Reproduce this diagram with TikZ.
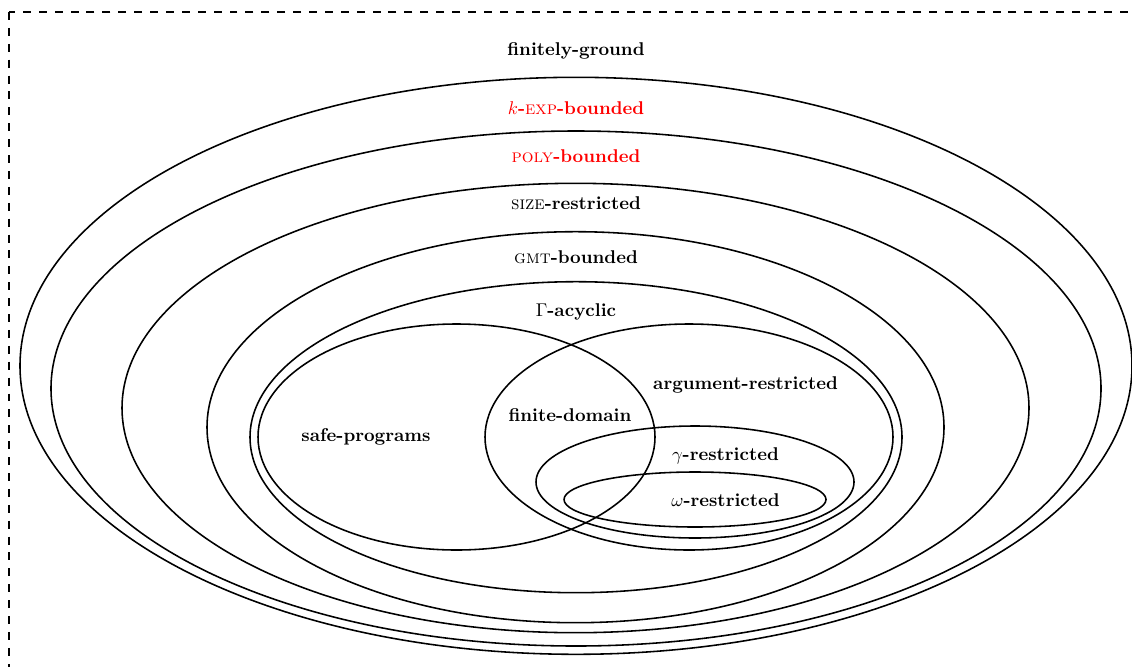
\documentclass[tikz,border=0pt]{standalone}
\begin{document}
\begin{tikzpicture}[x=0.541pt,y=-0.541pt,
  ell/.style={line width=0.85pt},
  lbl/.style={font=\bfseries, inner sep=0pt},
  redlbl/.style={lbl, text=red},
  frame/.style={dash pattern=on 4.3pt off 4.3pt, line width=0.8pt}]
\useasboundingbox (0,0) rectangle (1132,666);
\begin{scope}
  \clip (0,0) rectangle (1132,666);
  \draw[frame] (9,12) rectangle (1160,700);
\end{scope}
% nested classes
\draw[ell] (576,365.8) ellipse [x radius=556, y radius=288.5];
\draw[ell] (576,388.5) ellipse [x radius=525, y radius=257.5];
\draw[ell] (575.5,408) ellipse [x radius=453.5, y radius=224.7];
\draw[ell] (575.5,427.2) ellipse [x radius=368.5, y radius=195.5];
\draw[ell] (576,437.2) ellipse [x radius=326, y radius=155.5];
% safe-programs and argument-restricted
\draw[ell] (456.5,437) ellipse [x radius=198.5, y radius=113];
\draw[ell] (689,437) ellipse [x radius=204, y radius=113];
% gamma and omega restricted
\draw[ell] (695,482) ellipse [x radius=159, y radius=56];
\draw[ell] (695,499.5) ellipse [x radius=131, y radius=27.5];
% labels
\node[lbl] (fg) at (576,51) {finitely-ground};
\node[redlbl] (kexp) at (576,108) {$k$-{\mdseries\scshape exp}-bounded};
\node[redlbl] (poly) at (576,156) {{\mdseries\scshape poly}-bounded};
\node[lbl] (size) at (576,203) {{\mdseries\scshape size}-restricted};
\node[lbl] (gmt) at (576,257) {{\mdseries\scshape gmt}-bounded};
\node[lbl] (gac) at (576,312) {$\Gamma$-acyclic};
\node[lbl] (safe) at (366,437) {safe-programs};
\node[lbl] (fd) at (570,415) {finite-domain};
\node[lbl] (arg) at (745.5,385) {argument-restricted};
\node[lbl] (gam) at (725.5,456) {$\gamma$-restricted};
\node[lbl] (omg) at (725.5,500) {$\omega$-restricted};
\end{tikzpicture}
\end{document}
